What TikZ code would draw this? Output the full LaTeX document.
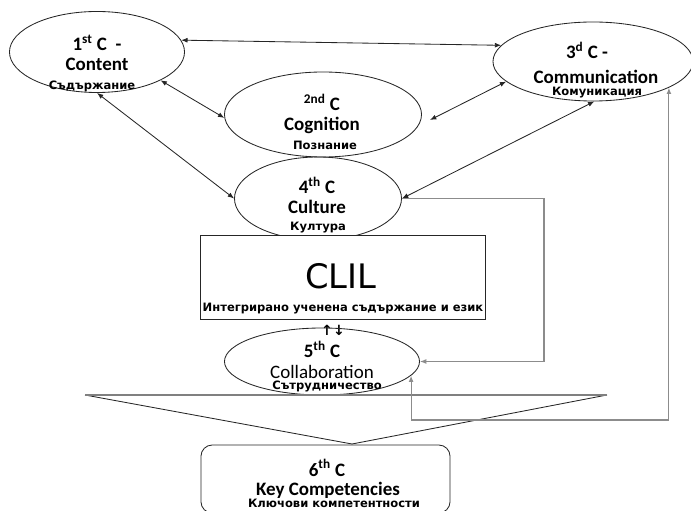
\documentclass[tikz,border=0pt]{standalone}
\usepackage{fontspec}
\setmainfont{Carlito}
\newfontfamily\rufont{DejaVu Sans}
\usetikzlibrary{shapes.geometric,arrows.meta}

\tikzset{
  bubble/.style={draw=black!85, ellipse, inner sep=0pt, line width=0.6pt},
  entxt/.style={font=\bfseries\fontsize{13.5}{15}\selectfont, inner sep=0pt, anchor=base},
  rutxt/.style={font=\rufont\bfseries\fontsize{8.2}{9}\selectfont, inner sep=0pt, anchor=base},
  link/.style={<->, draw=black!85, line width=0.6pt},
  grayline/.style={draw=black!45, line width=0.8pt},
}

\begin{document}
\begin{tikzpicture}[x=0.025cm, y=-0.025cm, >={Latex[length=4.5pt,width=3.5pt]}]
  \useasboundingbox (0,0) rectangle (691,511);

  % the C's on top
  \node[bubble, minimum width=4.375cm, minimum height=2.025cm] (content) at (97,52) {};
  \node[bubble, minimum width=5cm, minimum height=1.975cm] (comm) at (593,61.5) {};
  \node[bubble, minimum width=4.925cm, minimum height=2.125cm] (cognition) at (323,114.5) {};
  \node[bubble, minimum width=4.175cm, minimum height=2.075cm] (culture) at (318,198.5) {};

  \node[entxt] (content-a) at (97,51) {1\textsuperscript{st} C~~-};
  \node[entxt] (content-b) at (97,71) {Content};
  \node[rutxt] (content-c) at (92,90) {Съдържание};

  \node[entxt] (comm-a) at (587,59) {3\textsuperscript{d} C -};
  \node[entxt] (comm-b) at (596,84) {Communication};
  \node[rutxt] (comm-c) at (597,96) {Комуникация};

  \node[entxt] (cognition-a) at (322,111) {\textsuperscript{2nd} C};
  \node[entxt] (cognition-b) at (322,131) {Cognition};
  \node[rutxt] (cognition-c) at (325,150) {Познание};

  \node[entxt] (culture-a) at (317,194) {4\textsuperscript{th} C};
  \node[entxt] (culture-b) at (317,214) {Culture};
  \node[rutxt] (culture-c) at (318,231) {Култура};

  % CLIL in the middle
  \node[draw=black!85, fill=white, line width=0.6pt, inner sep=0pt,
        minimum width=7.125cm, minimum height=2.1cm] (clil) at (342.5,277) {};
  \node[font=\rufont\fontsize{24}{28}\selectfont, inner sep=0pt, anchor=base] (clil-a) at (341,289) {CLIL};
  \node[rutxt] (clil-ru) at (343,312) {Интегрирано ученена съдържание и език};
  \node[font=\rufont\bfseries\fontsize{10}{11}\selectfont, inner sep=0pt] (updown) at (333,330) {↑↓};

  \node[bubble, minimum width=4.875cm, minimum height=1.675cm] (collab) at (322,361.5) {};
  \node[entxt] (collab-a) at (322,358) {5\textsuperscript{th} C};
  \node[entxt, font=\fontsize{13.5}{15}\selectfont] (collab-b) at (322,378) {Collaboration};
  \node[rutxt] (collab-c) at (327,390) {Сътрудничество};

  % key competencies
  \draw[black!85, line width=0.6pt] (85,395) -- (352,444) -- (607,395);
  \draw[black!50, line width=1pt] (85,395) -- (607,395);
  \node[draw=black!85, rounded corners=8pt, line width=0.6pt, inner sep=0pt,
        minimum width=6.225cm, minimum height=1.7cm] (keycomp) at (325.5,479) {};
  \node[entxt] (keycomp-a) at (327,476) {6\textsuperscript{th} C};
  \node[entxt] (keycomp-b) at (328,495) {Key Competencies};
  \node[rutxt] (keycomp-c) at (334,507.5) {Ключови компетентности};

  % links
  \coordinate (cogR) at (430,120);
  \coordinate (lowbend) at (0,420);
  \draw[link] (content.8) -- (comm.170);
  \draw[link] (content.-24) -- (cognition.182);
  \draw[link] (content.south) -- (culture.west);
  \draw[link] (cogR) -- (comm.-167);
  \draw[link] (culture.east) -- (comm.-88);

  \draw[grayline, ->] (culture.east) -- ++(142,0) |- (collab.east);
  \draw[grayline, <->] (collab.-9) -- (collab.-9 |- lowbend) -| (comm.-19);
\end{tikzpicture}
\end{document}
